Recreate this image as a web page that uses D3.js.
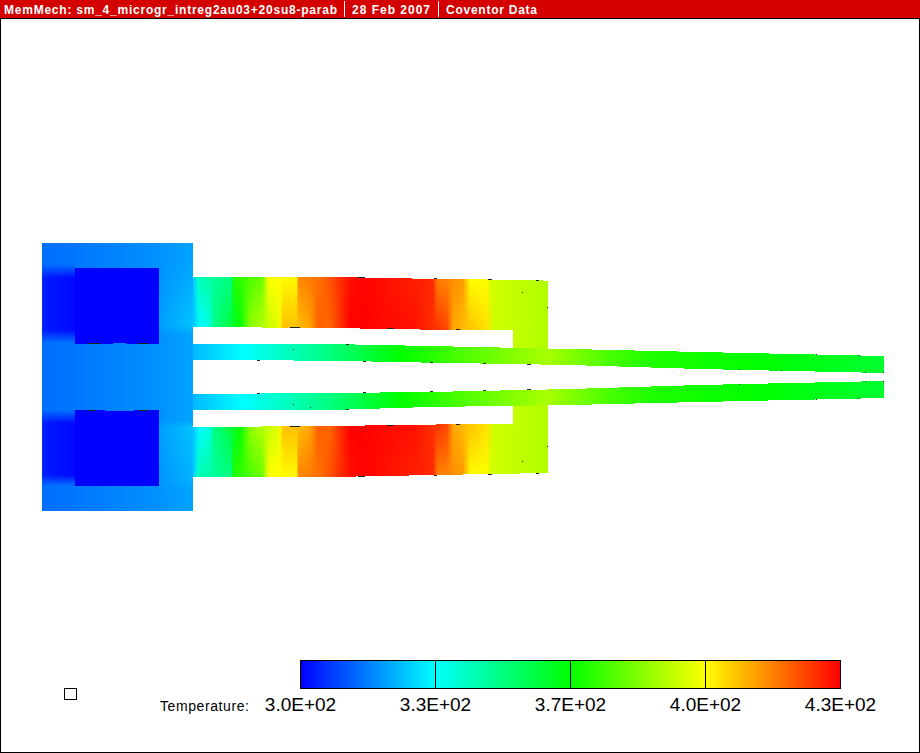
<!DOCTYPE html>
<html>
<head>
<meta charset="utf-8">
<script src="https://cdn.jsdelivr.net/npm/d3@7"></script>
<style>
html, body { margin: 0; padding: 0; background: #fff; }
svg { display: block; font-family: "Liberation Sans", Arial, sans-serif; }
</style>
</head>
<body>
<div id="chart"></div>
<script>
// Temperature legend
var legendValues = [300, 332.5, 365, 397.5, 430];
var legendLabels = ["3.0E+02", "3.3E+02", "3.7E+02", "4.0E+02", "4.3E+02"];
var colourStops = ["#0000ff", "#00ffff", "#00ff00", "#ffff00", "#ff0000"];
var titleParts = ["MemMech: sm_4_microgr_intreg2au03+20su8-parab", "28 Feb 2007", "Coventor Data"];

// Mesh outlines, model units
var blockOutline = [[42, 243], [193, 243], [193, 511], [42, 511]];
var upperPad = [[75, 268], [159, 268], [159, 344], [126, 344], [126, 343], [113, 343], [113, 344], [75, 344]];
var lowerPad = [[75, 410], [105, 410], [105, 411], [134, 411], [134, 410], [159, 410], [159, 486], [75, 486]];
var upperHeater = [[193, 277], [330, 277], [365, 277.5], [435, 279], [538, 280], [548, 281], [548, 350], [513, 350], [513, 330], [450, 330], [330, 328], [193, 327]];
var lowerHeater = [[193, 427], [330, 426], [450, 424.3], [513, 424], [513, 402], [548, 402], [548, 473], [435, 475], [330, 477], [193, 477]];
var upperArm = [[193, 344], [330, 344], [430, 346], [570, 349], [700, 352], [884, 356], [884, 373], [700, 369], [570, 365], [430, 362.7], [330, 360.7], [193, 360]];
var lowerArm = [[193, 394], [330, 393], [430, 392], [570, 389], [700, 385], [884, 381], [884, 398], [700, 402], [570, 405], [430, 407], [330, 410], [193, 410]];

// Temperature along each strip: [x, T]
var blockTemps = [[42, 314], [100, 316], [159, 318.5], [193, 321]];
var heaterOuterTemps = [[193, 325.5], [198, 338.5], [200, 342.5], [232, 349], [233, 369], [263, 379], [267, 394.5], [270, 397.5], [297, 398], [298, 412.7], [320, 415.7], [330, 419.7], [350, 428], [363, 430], [397, 427], [433, 425], [437, 413.7], [463, 410.5], [470, 397.5], [487, 397.5], [490, 392.5], [497, 391], [548, 387.5]];
var heaterInnerTemps = [[193, 324.5], [200, 332.5], [210, 336.5], [213, 347], [230, 357], [240, 365], [247, 377], [250, 383], [270, 390.5], [280, 395.5], [283, 405.5], [297, 405.5], [310, 409], [318, 418], [330, 417], [350, 430], [413, 428], [447, 421], [453, 409], [487, 401], [493, 391.5], [548, 387.5]];
var armTemps = [[193, 323.4], [243, 332.5], [330, 349], [400, 365], [463, 375], [547, 386.5], [570, 382], [610, 374], [650, 369], [700, 367], [760, 365], [884, 359]];

// Colder and warmer zones beside the pads: [x, T]
var leftZoneTemps = [[42, 305], [48, 303], [75, 301]];
var rightZoneTemps = [[159, 320], [193, 325]];
// How far each zone shows over the block: [y, weight]
var leftUpWeights = [[264, 0], [278, 1], [330, 1], [343, 0]];
var rightUpWeights = [[262, 0], [325, 1], [335, 0]];
var leftLowWeights = [[410, 0], [423, 1], [475, 1], [486, 0]];
var rightLowWeights = [[420, 0], [428, 1], [480, 0.4], [492, 0]];
var heaterUpWeights = [[277, 0], [327, 1]];
var heaterLowWeights = [[427, 1], [477, 0]];

// Small dark mesh specks: [x0, x1, y]
var specks = [[88, 100, 343], [138, 148, 343], [88, 96, 410], [138, 148, 410], [290, 300, 327], [290, 300, 426],
    [358, 365, 277], [434, 437, 278], [488, 492, 279], [536, 539, 280], [387, 394, 328], [456, 460, 329],
    [346, 349, 344], [363, 366, 361], [430, 433, 362], [483, 486, 363], [527, 531, 364], [522, 523, 292], [547, 548, 307],
    [363, 366, 392], [430, 433, 391], [483, 486, 390], [527, 531, 389], [346, 349, 409], [387, 394, 425], [456, 460, 424],
    [358, 365, 476], [434, 437, 475], [488, 492, 474], [536, 539, 473], [522, 523, 461], [547, 548, 446],
    [293, 294, 349], [257, 260, 360], [293, 294, 404], [310, 311, 407], [257, 260, 393],
    [739, 740, 369], [781, 782, 370], [816, 817, 354], [858, 859, 355], [865, 866, 372], [883, 884, 372],
    [739, 740, 384], [816, 817, 399], [858, 859, 398], [865, 866, 381], [883, 884, 381]];

var width = 920, height = 753;
var x = d3.scaleLinear().domain([0, 920]).range([0, width]);
var y = d3.scaleLinear().domain([0, 753]).range([0, height]);
var line = d3.line().x(function(d) { return x(d[0]); }).y(function(d) { return y(d[1]); }).curve(d3.curveLinearClosed);

var tempColour = d3.scaleLinear().domain(legendValues).range(colourStops).interpolate(d3.interpolateRgb).clamp(true);

var svg = d3.select("#chart").append("svg").attr("width", width).attr("height", height);
var defs = svg.append("defs");

// horizontal gradient in user space from [x, T] rows
function addGradient(id, rows) {
    var first = rows[0][0], last = rows[rows.length - 1][0];
    var g = defs.append("linearGradient").attr("id", id).attr("gradientUnits", "userSpaceOnUse")
        .attr("x1", x(first)).attr("x2", x(last)).attr("y1", 0).attr("y2", 0);
    g.selectAll("stop").data(rows).enter().append("stop")
        .attr("offset", function(d) { return (d[0] - first) / (last - first); })
        .attr("stop-color", function(d) { return tempColour(d[1]); });
}

// vertical mask from [y, weight] rows
function addMask(id, rows) {
    var first = rows[0][0], last = rows[rows.length - 1][0];
    var g = defs.append("linearGradient").attr("id", id + "-g").attr("gradientUnits", "userSpaceOnUse")
        .attr("x1", 0).attr("x2", 0).attr("y1", y(first)).attr("y2", y(last));
    g.selectAll("stop").data(rows).enter().append("stop")
        .attr("offset", function(d) { return (d[0] - first) / (last - first); })
        .attr("stop-color", "#fff")
        .attr("stop-opacity", function(d) { return d[1]; });
    defs.append("mask").attr("id", id).attr("maskUnits", "userSpaceOnUse")
        .attr("x", 0).attr("y", 0).attr("width", width).attr("height", height)
        .append("rect").attr("width", width).attr("height", height).attr("fill", "url(#" + id + "-g)");
}

addGradient("block", blockTemps);
addGradient("heater-outer", heaterOuterTemps);
addGradient("heater-inner", heaterInnerTemps);
addGradient("arm", armTemps);
addGradient("left-zone", leftZoneTemps);
addGradient("right-zone", rightZoneTemps);
addMask("left-up", leftUpWeights);
addMask("right-up", rightUpWeights);
addMask("left-low", leftLowWeights);
addMask("right-low", rightLowWeights);
addMask("fade-up", heaterUpWeights);
addMask("fade-low", heaterLowWeights);

svg.append("rect").attr("x", 0.5).attr("y", 0.5).attr("width", width - 1).attr("height", height - 1)
    .attr("fill", "#fff").attr("stroke", "#000");

// device
var mesh = svg.append("g").attr("shape-rendering", "crispEdges");
mesh.append("path").attr("d", line(blockOutline)).attr("fill", "url(#block)");

function zone(rows, weights, maskId, fill) {
    var x0 = rows[0][0], x1 = rows[rows.length - 1][0];
    var y0 = weights[0][0], y1 = weights[weights.length - 1][0];
    mesh.append("rect").attr("x", x(x0)).attr("width", x(x1) - x(x0))
        .attr("y", y(y0)).attr("height", y(y1) - y(y0))
        .attr("fill", fill).attr("mask", "url(#" + maskId + ")");
}
zone(leftZoneTemps, leftUpWeights, "left-up", "url(#left-zone)");
zone(rightZoneTemps, rightUpWeights, "right-up", "url(#right-zone)");
zone(leftZoneTemps, leftLowWeights, "left-low", "url(#left-zone)");
zone(rightZoneTemps, rightLowWeights, "right-low", "url(#right-zone)");

mesh.append("path").attr("d", line(upperPad)).attr("fill", "#0000ff");
mesh.append("path").attr("d", line(lowerPad)).attr("fill", "#0000ff");

mesh.append("path").attr("d", line(upperHeater)).attr("fill", "url(#heater-outer)");
mesh.append("path").attr("d", line(upperHeater)).attr("fill", "url(#heater-inner)").attr("mask", "url(#fade-up)");
mesh.append("path").attr("d", line(lowerHeater)).attr("fill", "url(#heater-outer)");
mesh.append("path").attr("d", line(lowerHeater)).attr("fill", "url(#heater-inner)").attr("mask", "url(#fade-low)");
mesh.append("path").attr("d", line(upperArm)).attr("fill", "url(#arm)");
mesh.append("path").attr("d", line(lowerArm)).attr("fill", "url(#arm)");

mesh.append("g").selectAll("rect").data(specks).enter().append("rect")
    .attr("x", function(d) { return x(d[0]); })
    .attr("y", function(d) { return y(d[2]); })
    .attr("width", function(d) { return x(d[1]) - x(d[0]); })
    .attr("height", 1)
    .attr("fill", "#222");

// title bar
var bar = svg.append("g");
bar.append("rect").attr("x", 0).attr("y", 0).attr("width", width).attr("height", 18).attr("fill", "#d40000");
bar.append("rect").attr("x", 0).attr("y", 18).attr("width", width).attr("height", 1).attr("fill", "#000");
var titleX = [4, 352, 446], titleW = [333, 78, 91];
bar.selectAll("text").data(titleParts).enter().append("text")
    .attr("x", function(d, i) { return titleX[i]; })
    .attr("y", 14)
    .attr("textLength", function(d, i) { return titleW[i]; })
    .attr("lengthAdjust", "spacing")
    .attr("fill", "#fff").attr("font-size", 12).attr("font-weight", "bold")
    .text(function(d) { return d; });
bar.selectAll("line").data([344, 438]).enter().append("line")
    .attr("x1", function(d) { return d + 0.5; }).attr("x2", function(d) { return d + 0.5; })
    .attr("y1", 1).attr("y2", 17).attr("stroke", "#fff");

// legend
var legendScale = d3.scaleLinear().domain([300, 430]).range([300, 840]);
var legendGrad = defs.append("linearGradient").attr("id", "legend");
legendGrad.selectAll("stop").data(legendValues).enter().append("stop")
    .attr("offset", function(d) { return (d - 300) / 130; })
    .attr("stop-color", function(d) { return tempColour(d); });

var legend = svg.append("g").attr("transform", "translate(0,660.5)");
legend.append("rect").attr("x", legendScale(300) + 0.5).attr("y", 0)
    .attr("width", legendScale(430) - legendScale(300)).attr("height", 28)
    .attr("fill", "url(#legend)").attr("stroke", "#000");

var legendAxis = d3.axisBottom(legendScale)
    .tickValues(legendValues)
    .tickSize(28)
    .tickPadding(0)
    .tickFormat(function(d, i) { return legendLabels[i]; });
var axisG = legend.append("g").call(legendAxis);
axisG.select(".domain").remove();
axisG.selectAll("text").attr("fill", "#000").attr("font-size", 19)
    .attr("font-family", "'Liberation Sans', Arial, sans-serif")
    .attr("dy", 0).attr("y", 50.5).attr("text-anchor", "middle");
axisG.selectAll("line").attr("stroke", "#000");

svg.append("text").attr("x", 160).attr("y", 711).attr("font-size", 14).attr("fill", "#000")
    .attr("textLength", 89).text("Temperature:");
svg.append("rect").attr("x", 64.5).attr("y", 688.5).attr("width", 12).attr("height", 11)
    .attr("fill", "#fff").attr("stroke", "#000");
</script>
</body>
</html>
